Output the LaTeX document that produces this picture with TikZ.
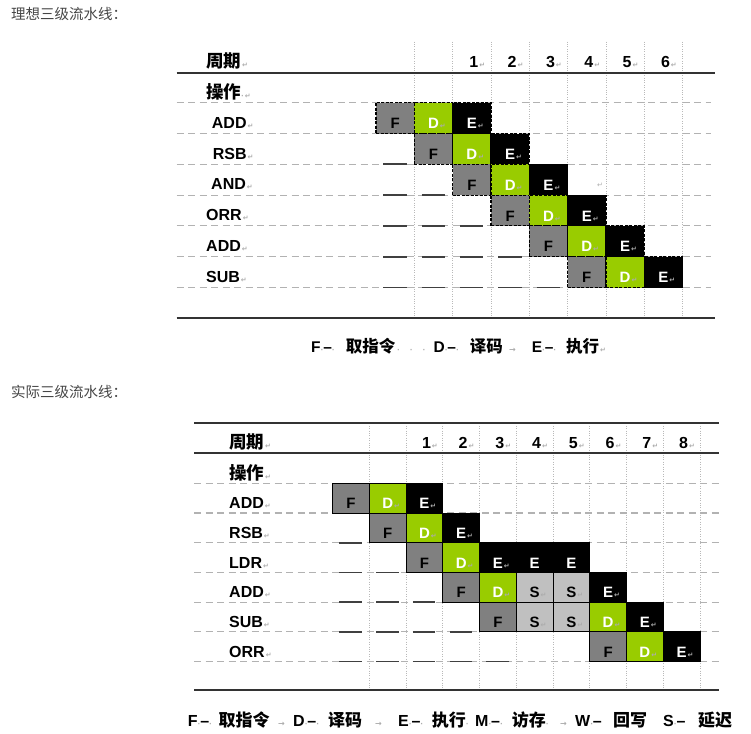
\documentclass[tikz,border=0pt]{standalone}
\usepackage{fontspec}
\setmainfont{Liberation Sans}
\newfontfamily\cjk{Noto Sans CJK SC}
\newfontfamily\symf{DejaVu Sans}
\usepackage{xcolor}
\definecolor{fgray}{RGB}{128,128,128}
\definecolor{dgreen}{RGB}{153,204,0}
\definecolor{sgray}{RGB}{192,192,192}
\definecolor{ttl}{RGB}{70,70,70}
\newcommand\retm{\rlap{\kern1pt\color{gray!65}\symf\fontsize{7}{7}\selectfont ↵}}
\newcommand\spm{{\color{gray!65}\symf\fontsize{7}{7}\selectfont ·}}
\newcommand\tabm{{\color{gray!65}\symf\fontsize{8}{8}\selectfont →}}
\newcommand\zh[1]{{\cjk #1}}

\tikzset{
  lbl/.style={anchor=base west, inner sep=0pt, font=\fontsize{16}{16}\selectfont\bfseries},
  zhlbl/.style={anchor=base west, inner sep=0pt, font=\cjk\fontsize{17.5}{17.5}\selectfont\bfseries},
  title/.style={anchor=base west, inner sep=0pt, text=ttl, font=\cjk\fontsize{14.5}{14.5}\selectfont},
  rowline/.style={gray!60, line width=1.1pt, dash pattern=on 7pt off 4.5pt},
  vline/.style={gray!55, line width=0.7pt, dash pattern=on 0.8pt off 1.6pt},
  rule/.style={black!80, line width=1.8pt},
  ul/.style={black!75, line width=1.8pt},
  tcell/.style={minimum width=38.33pt, minimum height=30.8pt, inner sep=0pt,
    text height=21pt, text depth=0pt, font=\fontsize{15}{15}\selectfont\bfseries,
    draw=black, line width=1.1pt, dash pattern=on 3pt off 1.5pt},
  bcell/.style={minimum width=36.74pt, minimum height=29.7pt, inner sep=0pt,
    text height=21pt, text depth=0pt, font=\fontsize{15}{15}\selectfont\bfseries,
    draw=black, line width=1pt}
}

\begin{document}
\begin{tikzpicture}[x=1pt,y=-1pt]
    \useasboundingbox (0,0) rectangle (751,733);
    % ideal pipeline
    \node[title] (title1) at (11,20) {理想三级流水线：};
    \foreach \j in {0,...,7}
        \draw[vline] ({414.33+38.33*\j},41.7) -- ({414.33+38.33*\j},317.7);
    \foreach \r in {0,...,6}
        \draw[rowline] (176.7,{102.7+30.8*\r}) -- (711,{102.7+30.8*\r});
    \draw[rule] (176.7,72.7) -- (715,72.7);
    \draw[rule] (176.7,317.7) -- (715,317.7);
    \node[zhlbl] (tcyc) at (206,67.5) {周期\retm};
    \node[zhlbl] (top) at (206,98.5) {操作\spm\retm};
    \foreach \n in {1,...,6}
        \node[lbl,anchor=base] (tn\n) at ({397.17+38.33*(\n+1)},67.5) {\n\retm};
    \foreach \x/\t [count=\r from 0] in {211.7/ADD,212.7/RSB,211/AND,206/ORR,206/ADD,206/SUB}
        \node[lbl] (tl\r) at (\x,{128.3+30.8*\r}) {\t\retm};
    \foreach \r in {0,...,5}{
        \node[tcell,fill=fgray] (tF\r) at ({395.17+38.33*\r},{118.1+30.8*\r}) {F};
        \node[tcell,fill=dgreen,text=white] (tD\r) at ({433.5+38.33*\r},{118.1+30.8*\r}) {D\retm};
        \node[tcell,fill=black,text=white] (tE\r) at ({471.83+38.33*\r},{118.1+30.8*\r}) {E\retm};
    }
    \foreach \r in {1,...,5}
        \foreach \k in {1,...,\r}
            \draw[ul] ({376+38.33*(\k-1)+7.3},{102.7+30.8*(\r+1)}) -- ++(23.4,0);
    \node[inner sep=0pt,anchor=base] (stray) at (596,187) {\retm};
    % legend
    \node[lbl,font=\fontsize{15.5}{15.5}\selectfont\bfseries] (lgF) at (311,352.7) {F\spm–\spm};
    \node[zhlbl,font=\cjk\fontsize{16.5}{16.5}\selectfont\bfseries] (lgf) at (345.6,352.7) {取指令};
    \node[lbl] (lgs) at (397,352.7) {\spm\hspace{10pt}\spm\hspace{10pt}\spm};
    \node[lbl,font=\fontsize{15.5}{15.5}\selectfont\bfseries] (lgD) at (433.4,352.7) {D\spm–\spm};
    \node[zhlbl,font=\cjk\fontsize{16.5}{16.5}\selectfont\bfseries] (lgd) at (469.6,352.7) {译码};
    \node[lbl] (lga) at (509,352.7) {\tabm};
    \node[lbl,font=\fontsize{15.5}{15.5}\selectfont\bfseries] (lgE) at (531.6,352.7) {E\spm–\spm};
    \node[zhlbl,font=\cjk\fontsize{16.5}{16.5}\selectfont\bfseries] (lge) at (566,352.7) {执行\retm};

    % real pipeline
    \node[title] (title2) at (11,397.5) {实际三级流水线：};
    \foreach \j in {0,...,9}
        \draw[vline] ({369.3+36.74*\j},423.3) -- ({369.3+36.74*\j},690);
    \foreach \r in {0,...,6}
        \draw[rowline] (194,{483.3+29.7*\r}) -- (719,{483.3+29.7*\r});
    \draw[rule] (194,423.3) -- (719,423.3);
    \draw[rule] (194,453.3) -- (719,453.3);
    \draw[rule] (194,690) -- (719,690);
    \node[zhlbl] (bcyc) at (229,448.5) {周期\retm};
    \node[zhlbl] (bop) at (229,479.5) {操作\retm};
    \foreach \n in {1,...,8}
        \node[lbl,anchor=base] (bn\n) at ({352.97+36.74*(\n+1)},448.3) {\n\retm};
    \foreach \t [count=\r from 0] in {ADD,RSB,LDR,ADD,SUB,ORR}
        \node[lbl] (bl\r) at (229,{508.6+29.7*\r}) {\t\retm};
    \foreach \k/\r/\f/\c/\t in {0/0/fgray/black/F, 1/0/dgreen/white/D\retm, 2/0/black/white/E\retm,
        1/1/fgray/black/F, 2/1/dgreen/white/D\retm, 3/1/black/white/E\retm,
        2/2/fgray/black/F, 3/2/dgreen/white/D\retm, 4/2/black/white/E\retm, 5/2/black/white/E, 6/2/black/white/E,
        3/3/fgray/black/F, 4/3/dgreen/white/D\retm, 5/3/sgray/black/S\retm, 6/3/sgray/black/S\retm, 7/3/black/white/E\retm,
        4/4/fgray/black/F, 5/4/sgray/black/S\retm, 6/4/sgray/black/S\retm, 7/4/dgreen/white/D\retm, 8/4/black/white/E\retm,
        7/5/fgray/black/F, 8/5/dgreen/white/D\retm, 9/5/black/white/E\retm}
        \node[bcell,fill=\f,text=\c] (b\r-\k) at ({350.97+36.74*\k},{498.15+29.7*\r}) {\t};
    \foreach \r in {1,...,5}
        \foreach \k in {1,...,\r}
            \draw[ul] ({332.6+36.74*(\k-1)+6.8},{483.3+29.7*(\r+1)}) -- ++(22.5,0);
    % legend
    \node[lbl] (mgF) at (187.7,726) {F\spm–\spm};
    \node[zhlbl,font=\cjk\fontsize{17}{17}\selectfont\bfseries] (mgf) at (218.3,726) {取指令};
    \node[lbl] (mga1) at (278,726) {\tabm};
    \node[lbl] (mgD) at (293,726) {D\spm–\spm};
    \node[zhlbl,font=\cjk\fontsize{17}{17}\selectfont\bfseries] (mgd) at (328,726) {译码};
    \node[lbl] (mga2) at (375,726) {\tabm};
    \node[lbl] (mgE) at (398,726) {E\spm–\spm};
    \node[zhlbl,font=\cjk\fontsize{17}{17}\selectfont\bfseries] (mge) at (431.7,726) {执行\spm};
    \node[lbl] (mgM) at (475,726) {M\spm–\spm};
    \node[zhlbl,font=\cjk\fontsize{17}{17}\selectfont\bfseries] (mgm) at (511.7,726) {访存\spm};
    \node[lbl] (mga3) at (560,726) {\tabm};
    \node[lbl] (mgW) at (575,726) {W\spm–};
    \node[zhlbl,font=\cjk\fontsize{17}{17}\selectfont\bfseries] (mgw) at (613,726) {回写};
    \node[lbl] (mgS) at (663,726) {S\spm–};
    \node[zhlbl,font=\cjk\fontsize{17}{17}\selectfont\bfseries] (mgs) at (698,726) {延迟};
\end{tikzpicture}
\end{document}
